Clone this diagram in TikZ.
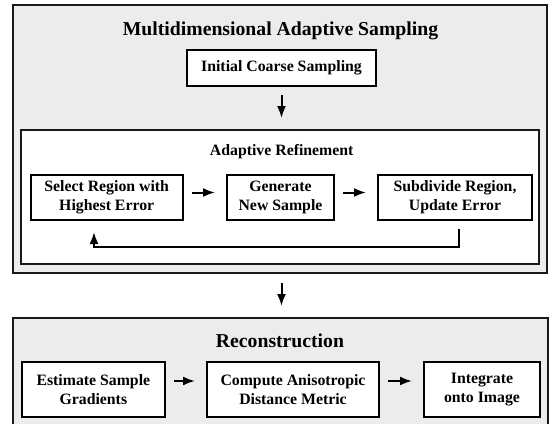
\documentclass[tikz,border=0pt]{standalone}
\usepackage{fontspec}
\setmainfont{Liberation Serif}
\usetikzlibrary{arrows.meta}
\definecolor{panelgray}{HTML}{ECECEC}
\begin{document}
\begin{tikzpicture}[x=0.5pt,y=-0.5pt,
  panel/.style={draw=black!90,line width=1pt,fill=panelgray,inner sep=0pt},
  framebox/.style={draw=black!90,line width=1pt,fill=white,inner sep=0pt},
  stage/.style={draw=black,line width=1pt,fill=white,align=center,inner sep=0pt,
    font=\fontsize{7.9}{9.5}\selectfont\bfseries},
  head/.style={anchor=base,font=\fontsize{9.85}{12}\selectfont\bfseries},
  subhead/.style={anchor=base,font=\fontsize{7.9}{9.5}\selectfont\bfseries},
  arr/.style={-{Latex[length=6pt,width=4.5pt]},line width=1pt,shorten <=4pt,shorten >=5.5pt}]
\pgfmathsetmacro{\up}{2.5}
\pgfmathsetmacro{\lo}{4.25}
\useasboundingbox (0,0) rectangle (551,423);
\clip (0,0) rectangle (551,423);
% sampling stage
\node[panel,minimum width=267.15pt,minimum height=134pt](sampling)at(279.85,139){};
\node[head](samplingtitle)at(280.5,35){Multidimensional Adaptive Sampling};
\node[stage,minimum width=94.5pt,minimum height=18pt](coarse)at(281.5,68){Initial Coarse Sampling};
\node[framebox,minimum width=259.15pt,minimum height=67pt](refine)at(279.85,197){};
\node[subhead](refinetitle)at(281.7,155){Adaptive Refinement};
\node[stage,minimum width=76pt,minimum height=22.5pt](select)at(106.7,197.5){Select Region with\\Highest Error};
\node[stage,minimum width=53.5pt,minimum height=22.5pt](generate)at(280.5,197.5){Generate\\New Sample};
\node[stage,minimum width=77pt,minimum height=22.5pt](subdivide)at(455,197.5){Subdivide Region,\\Update Error};
% reconstruction stage
\node[panel,minimum width=267.65pt,minimum height=61pt](recon)at(280.35,379){};
\node[head](recontitle)at(280,347){Reconstruction};
\node[stage,minimum width=71.65pt,minimum height=27.5pt](gradients)at(93.35,389.5){Estimate Sample\\Gradients};
\node[stage,minimum width=86pt,minimum height=27.5pt](metric)at(293,389.5){Compute Anisotropic\\Distance Metric};
\node[stage,minimum width=58pt,minimum height=27.5pt](integrate)at(482,389.5){Integrate\\onto Image};
% arrows
\draw[arr](coarse.south)--(coarse.south|-refine.north);
\draw[arr]([yshift=\up pt]select.east)--([yshift=\up pt]generate.west);
\draw[arr]([yshift=\up pt]generate.east)--([yshift=\up pt]subdivide.west);
\draw[arr]([xshift=2pt]subdivide.south)--++(0,26)-|([xshift=-6.35pt]select.south);
\draw[arr,shorten <=4.5pt,shorten >=5.5pt](coarse.south|-sampling.south)--(coarse.south|-recon.north);
\draw[arr]([yshift=\lo pt]gradients.east)--([yshift=\lo pt]metric.west);
\draw[arr]([yshift=\lo pt]metric.east)--([yshift=\lo pt]integrate.west);
\end{tikzpicture}
\end{document}
